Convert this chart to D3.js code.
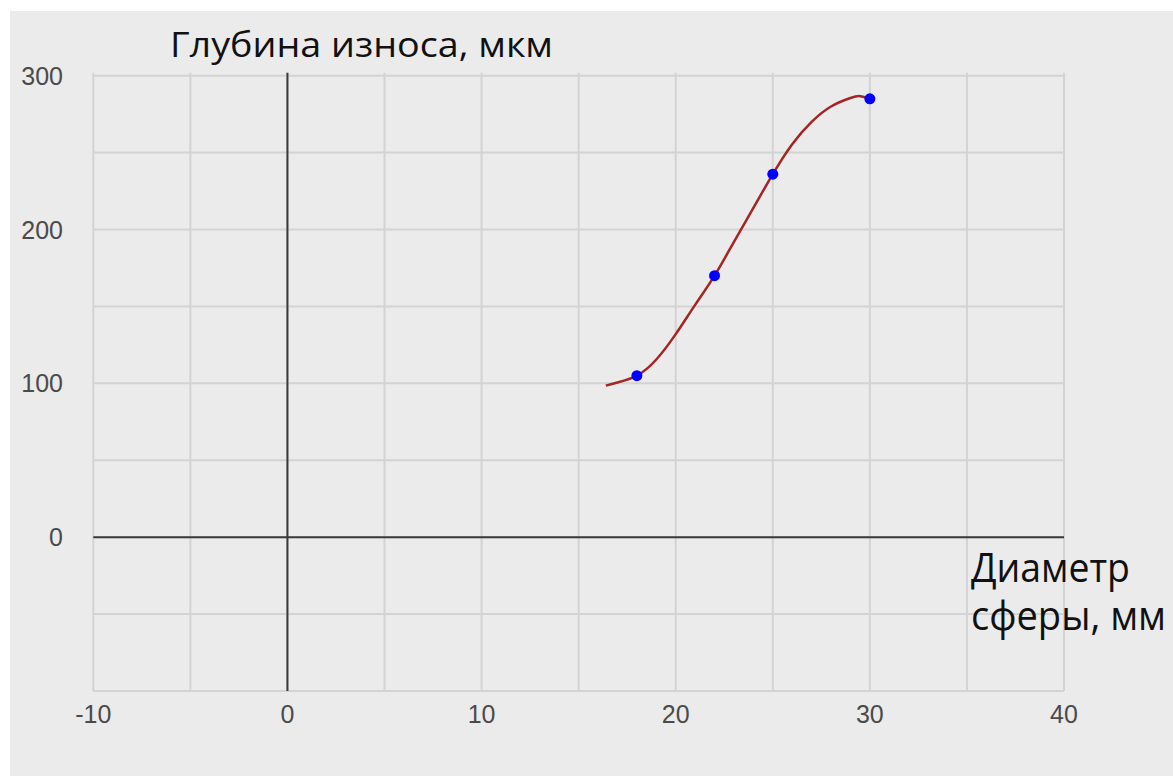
<!DOCTYPE html>
<html>
<head>
<meta charset="utf-8">
<script src="https://cdn.jsdelivr.net/npm/d3@7"></script>
<style>
  html, body { margin: 0; padding: 0; background: #ffffff; }
  svg { display: block; }
</style>
</head>
<body>
<div id="chart"></div>
<script>
// measured points
const diameters = [18, 22, 25, 30];
const wearDepth = [105, 170, 236, 285];

// trend curve
const trendX = [16.4, 17, 18, 19, 20, 21, 22, 23, 24, 25, 26, 27, 28, 29, 29.5, 30];
const trendY = [98.5, 100.6, 105, 115.5, 132, 151, 170, 192, 214, 236, 255.5, 270, 280, 285.5, 286.7, 285];

// ticks
const xTicks = [-10, 0, 10, 20, 30, 40];
const xGrid = [-10, -5, 0, 5, 10, 15, 20, 25, 30, 35, 40];
const yTicks = [0, 100, 200, 300];
const yGrid = [-100, -50, 0, 50, 100, 150, 200, 250, 300];

const yTitle = "Глубина износа, мкм";
const xTitle = ["Диаметр", "сферы, мм"];

const width = 1173;
const height = 776;

const svg = d3.select("#chart")
  .append("svg")
  .attr("width", width)
  .attr("height", height)
  .attr("viewBox", [0, 0, width, height]);

// grey panel
svg.append("rect")
  .attr("x", 10)
  .attr("y", 11)
  .attr("width", width - 10)
  .attr("height", height - 11)
  .attr("fill", "#ebebeb");

const xScale = d3.scaleLinear()
  .domain([-10, 40])
  .range([93.3, 1064]);

const yScale = d3.scaleLinear()
  .domain([-100, 300])
  .range([691, 75.7]);

// gridlines
const grid = svg.append("g");
grid.selectAll(".hgrid")
  .data(yGrid)
  .join("line")
    .attr("x1", xScale(-10))
    .attr("x2", xScale(40))
    .attr("y1", d => yScale(d))
    .attr("y2", d => yScale(d))
    .attr("stroke", "#d3d3d3")
    .attr("stroke-width", 2);

grid.selectAll(".vgrid")
  .data(xGrid)
  .join("line")
    .attr("x1", d => xScale(d))
    .attr("x2", d => xScale(d))
    .attr("y1", yScale(300) - 3)
    .attr("y2", yScale(-100))
    .attr("stroke", "#d3d3d3")
    .attr("stroke-width", 2);

// zero axes
svg.append("line")
  .attr("x1", xScale(-10))
  .attr("x2", xScale(40))
  .attr("y1", yScale(0))
  .attr("y2", yScale(0))
  .attr("stroke", "#3a3a3a")
  .attr("stroke-width", 2);

svg.append("line")
  .attr("x1", xScale(0))
  .attr("x2", xScale(0))
  .attr("y1", yScale(300) - 3)
  .attr("y2", yScale(-100))
  .attr("stroke", "#3a3a3a")
  .attr("stroke-width", 2);

// tick labels
svg.append("g")
  .selectAll("text")
  .data(yTicks)
  .join("text")
    .attr("x", 63)
    .attr("y", d => yScale(d))
    .attr("dy", "0.36em")
    .attr("text-anchor", "end")
    .attr("font-family", "'Liberation Sans', Arial, sans-serif")
    .attr("font-size", 25)
    .attr("fill", "#4a4a4a")
    .text(d => d);

svg.append("g")
  .selectAll("text")
  .data(xTicks)
  .join("text")
    .attr("x", d => xScale(d))
    .attr("y", 714)
    .attr("dy", "0.36em")
    .attr("text-anchor", "middle")
    .attr("font-family", "'Liberation Sans', Arial, sans-serif")
    .attr("font-size", 25)
    .attr("fill", "#4a4a4a")
    .text(d => d);

// trend curve
const trend = trendX.map((x, i) => ({ x: x, y: trendY[i] }));
const lineGen = d3.line()
  .x(d => xScale(d.x))
  .y(d => yScale(d.y))
  .curve(d3.curveNatural);

svg.append("path")
  .datum(trend)
  .attr("d", lineGen)
  .attr("fill", "none")
  .attr("stroke", "#a52424")
  .attr("stroke-width", 2.5);

// points
svg.append("g")
  .selectAll("circle")
  .data(diameters)
  .join("circle")
    .attr("cx", d => xScale(d))
    .attr("cy", (d, i) => yScale(wearDepth[i]))
    .attr("r", 5.5)
    .attr("fill", "#0000ff");

// titles
svg.append("text")
  .attr("x", 170)
  .attr("y", 57)
  .attr("font-family", "'Open Sans', 'Noto Sans', sans-serif")
  .attr("font-size", 34)
  .attr("textLength", 383)
  .attr("lengthAdjust", "spacingAndGlyphs")
  .attr("fill", "#111")
  .text(yTitle);

svg.append("text")
  .attr("x", 971)
  .attr("y", 582)
  .attr("font-family", "'Open Sans', 'Noto Sans', sans-serif")
  .attr("font-size", 40)
  .attr("textLength", 159)
  .attr("lengthAdjust", "spacingAndGlyphs")
  .attr("fill", "#111")
  .text(xTitle[0]);

svg.append("text")
  .attr("x", 971)
  .attr("y", 630)
  .attr("font-family", "'Open Sans', 'Noto Sans', sans-serif")
  .attr("font-size", 40)
  .attr("textLength", 195)
  .attr("lengthAdjust", "spacingAndGlyphs")
  .attr("fill", "#111")
  .text(xTitle[1]);
</script>
</body>
</html>
